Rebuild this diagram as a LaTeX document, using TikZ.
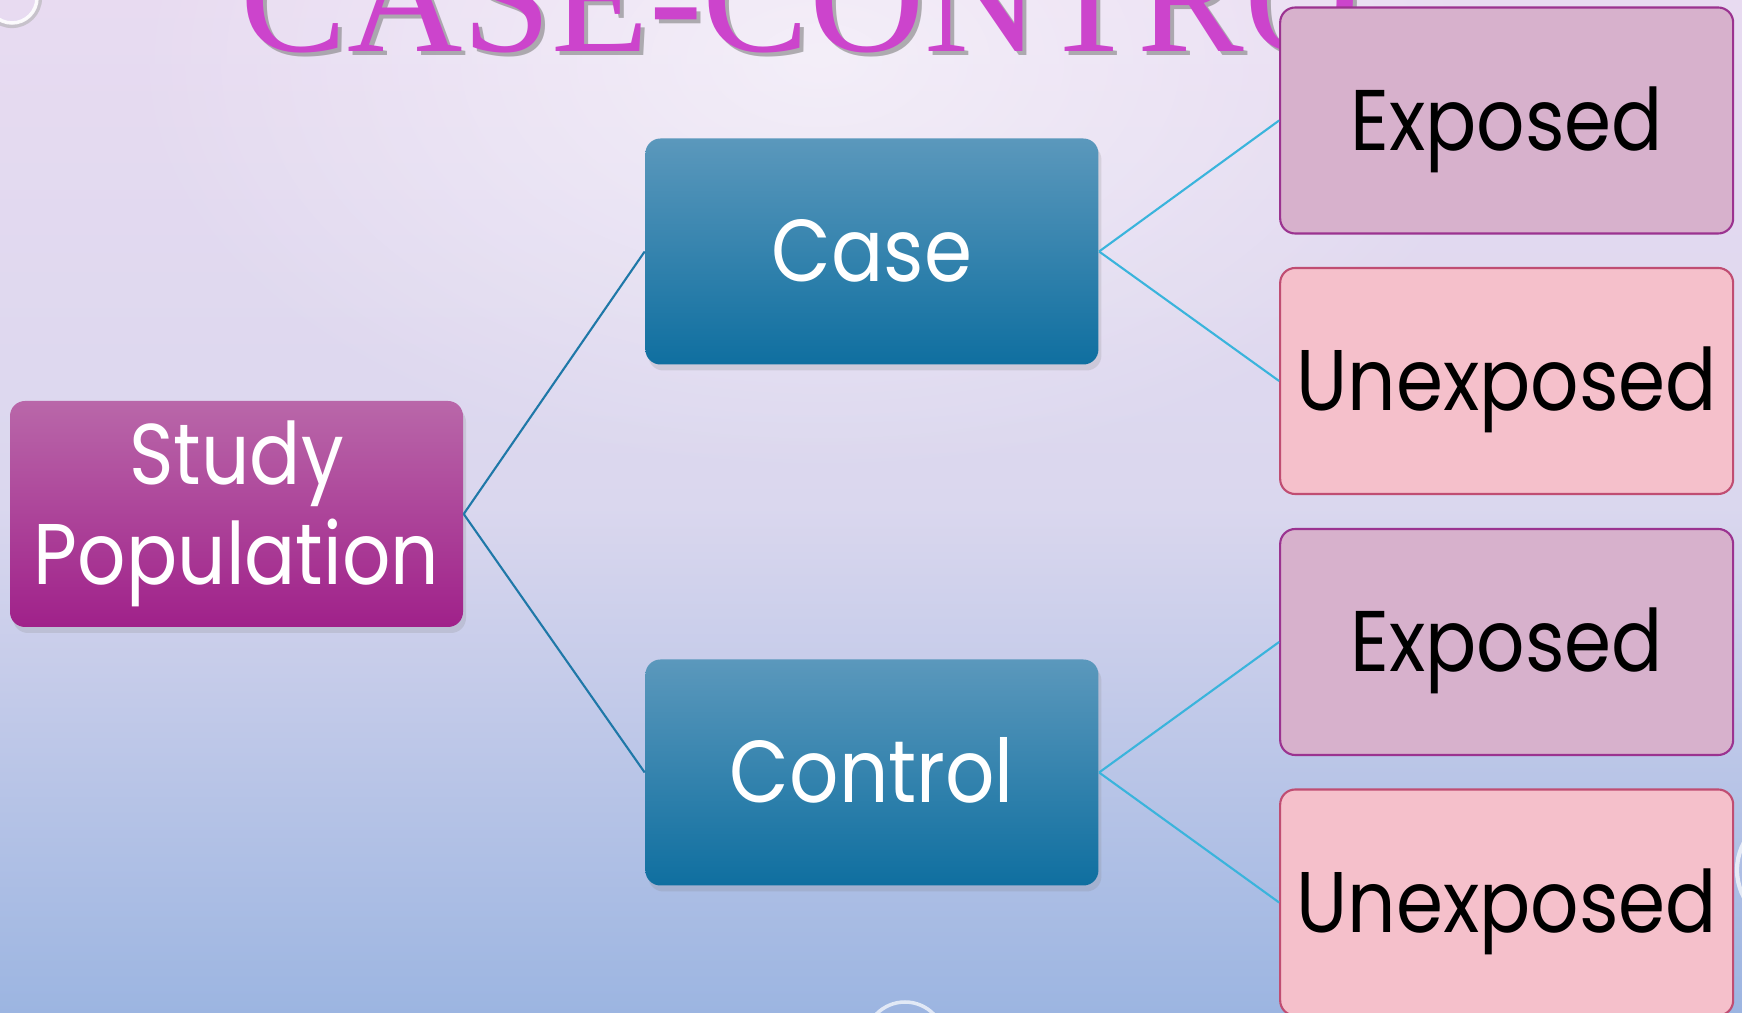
\documentclass[tikz,border=0pt]{standalone}
\usepackage{fontspec}
\setmainfont{Poppins}[FakeStretch=0.88]
\newfontfamily\titlefont{Liberation Serif}
\usetikzlibrary{positioning, shadows, fadings}
\tikzfading[name=glow, inner color=transparent!0, outer color=transparent!100]
\definecolor{bgTop}{HTML}{E8DBF1}
\definecolor{bgMid}{HTML}{DAD7EE}
\definecolor{bgBot}{HTML}{9CB5E1}
\definecolor{titleC}{HTML}{CC44CC}
\definecolor{popTop}{HTML}{B967A9}
\definecolor{popBot}{HTML}{A0218A}
\definecolor{grpTop}{HTML}{5B98BC}
\definecolor{grpBot}{HTML}{0F6FA0}
\definecolor{expFill}{HTML}{D7B1CC}
\definecolor{expLine}{HTML}{9B3390}
\definecolor{unexpFill}{HTML}{F5C0CB}
\definecolor{unexpLine}{HTML}{C04D72}
\definecolor{linkDark}{HTML}{1F78A8}
\definecolor{linkLight}{HTML}{3AB4DC}

\begin{document}
\begin{tikzpicture}[x=0.1mm, y=-0.1mm,
  box/.style={rounded corners=1.5mm, minimum width=45.3mm, minimum height=22.6mm, inner sep=0pt, align=center},
  popbox/.style={box, top color=popTop, bottom color=popBot, text=white,
    font=\fontsize{24.5}{28.5}\selectfont, drop shadow={opacity=0.2, shadow xshift=0.3mm, shadow yshift=-0.6mm}},
  grpbox/.style={box, top color=grpTop, bottom color=grpBot, text=white, text height=6.1mm, text depth=0pt,
    font=\fontsize{25}{30}\selectfont, drop shadow={opacity=0.2, shadow xshift=0.3mm, shadow yshift=-0.6mm}},
  expbox/.style={box, draw=expLine, line width=0.6pt, fill=expFill, text height=6mm, text depth=0pt,
    font=\fontsize{24.5}{28}\selectfont},
  unexpbox/.style={expbox, draw=unexpLine, fill=unexpFill},
  titletext/.style={anchor=base west, inner sep=0pt, font=\titlefont\fontsize{45.5}{48}\selectfont},
  link/.style={draw=linkDark, line width=0.6pt},
  sublink/.style={draw=linkLight, line width=0.6pt}]
  \clip (0,0) rectangle (1742,1013);
  \shade[top color=bgTop, bottom color=bgBot, middle color=bgMid] (0,0) rectangle (1742,1013);
  \fill[white, opacity=0.55, path fading=glow] (820,60) ellipse (700 and 420);
  \draw[gray!60, line width=1.2pt, opacity=0.6] (12,-2) circle (28);
  \draw[white, line width=1pt, opacity=0.9] (12,-2) circle (25);
  \draw[white, line width=1pt, opacity=0.7] (905,1042) circle (40);
  \draw[white, line width=1.2pt, opacity=0.7] (1795,870) circle (58);

  \node[titletext, text=gray, opacity=0.6] (titlesh) at (244,56) {CASE-CONTRO};
  \node[titletext, text=titleC] (title) at (240,52) {CASE-CONTRO};

  \node[popbox] (pop) at (236.5,514) {Study\\Population};
  \node[grpbox, right=18.1mm of pop, yshift=26.25mm] (case) {Case};
  \node[grpbox, right=18.1mm of pop, yshift=-25.85mm] (control) {Control};

  \node[expbox, right=18mm of case, yshift=13.1mm] (caseexp) {Exposed};
  \node[unexpbox, right=18mm of case, yshift=-12.95mm] (caseunexp) {Unexposed};
  \node[expbox, right=18mm of control, yshift=13.05mm] (ctrlexp) {Exposed};
  \node[unexpbox, right=18mm of control, yshift=-13mm] (ctrlunexp) {Unexposed};

  \draw[link] (pop.east) -- (case.west);
  \draw[link] (pop.east) -- (control.west);
  \draw[sublink] (case.east) -- (caseexp.west);
  \draw[sublink] (case.east) -- (caseunexp.west);
  \draw[sublink] (control.east) -- (ctrlexp.west);
  \draw[sublink] (control.east) -- (ctrlunexp.west);
\end{tikzpicture}
\end{document}
